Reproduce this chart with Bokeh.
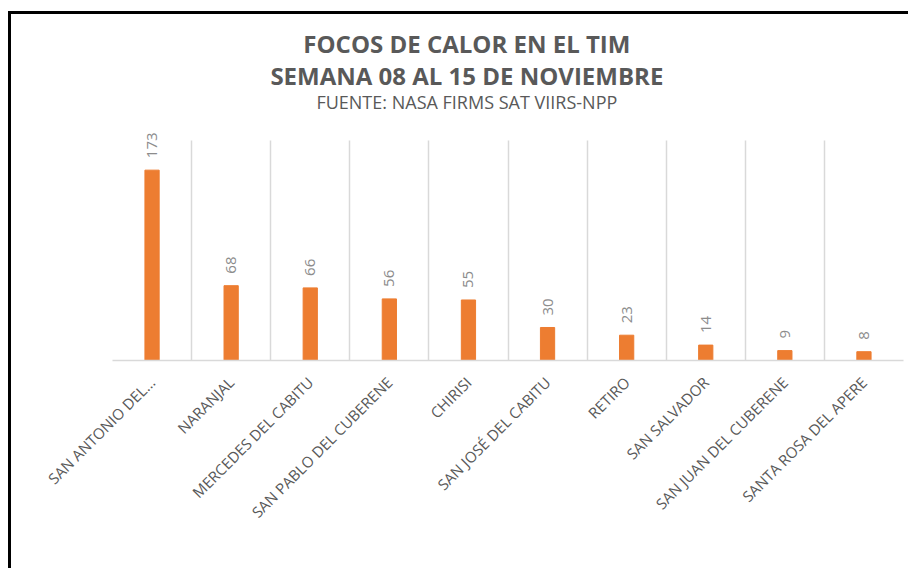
from math import pi
from bokeh.plotting import figure
from bokeh.models import ColumnDataSource, LabelSet, Label, FixedTicker, FactorRange, Range1d
from bokeh.core.properties import value
from bokeh.embed import file_html
from bokeh.resources import INLINE

categories = ["SAN ANTONIO DEL...", "NARANJAL", "MERCEDES DEL CABITU",
              "SAN PABLO DEL CUBERENE", "CHIRISI", "SAN JOSÉ DEL CABITU",
              "RETIRO", "SAN SALVADOR", "SAN JUAN DEL CUBERENE",
              "SANTA ROSA DEL APERE"]
values = [173, 68, 66, 56, 55, 30, 23, 14, 9, 8]
value_labels = [str(v) for v in values]
title_lines = ["FOCOS DE CALOR EN EL TIM", "SEMANA 08 AL 15 DE NOVIEMBRE"]
subtitle = "FUENTE: NASA FIRMS SAT VIIRS-NPP"
axis_max = 200

FONT = "Open Sans"
GRAY = "#595959"

src = ColumnDataSource(dict(cat=categories, val=values, lab=value_labels))

p = figure(width=900, height=557, x_range=FactorRange(*categories),
           y_range=Range1d(0, 309), output_backend="svg", toolbar_location=None,
           min_border_left=101, min_border_right=8, min_border_top=6,
           min_border_bottom=211)
p.margin = (11, 0, 0, 8)
p.styles = {"border-top": "3px solid black", "border-left": "3px solid black"}
p.outline_line_color = None
p.background_fill_color = "white"
p.border_fill_color = "white"

p.vbar(x="cat", top="val", width=0.18, source=src, color="#ED7D31")

# grid at category boundaries, up to the axis maximum
p.ygrid.visible = False
p.xgrid.ticker = FixedTicker(ticks=list(range(len(categories) + 1)))
p.xgrid.cross_bounds = (0, axis_max)
p.xgrid.grid_line_color = "#D9D9D9"
p.xgrid.grid_line_width = 1.5

p.yaxis.visible = False
ax = p.xaxis[0]
ax.axis_line_color = "#D9D9D9"
ax.axis_line_width = 1.5
ax.major_tick_line_color = None
ax.minor_tick_line_color = None
ax.major_label_orientation = pi / 4
ax.major_label_text_font = FONT
ax.major_label_text_font_size = "15px"
ax.major_label_text_color = GRAY
ax.major_label_standoff = 13

labels = LabelSet(x="cat", y="val", text="lab", source=src, angle=pi / 2,
                  text_align="left", text_baseline="middle", y_offset=12,
                  text_font=value(FONT), text_font_size=value("15px"),
                  text_color=value("#8c8c8c"))
p.add_layout(labels)

cx = 4.48
p.add_layout(Label(x=cx, y=288, text=title_lines[0], text_align="center",
                   text_baseline="middle", text_font=FONT, text_font_size="24px",
                   text_font_style="bold", text_color=GRAY))
p.add_layout(Label(x=cx, y=259, text=title_lines[1], text_align="center",
                   text_baseline="middle", text_font=FONT, text_font_size="24px",
                   text_font_style="bold", text_color=GRAY))
p.add_layout(Label(x=cx, y=234.5, text=subtitle, text_align="center",
                   text_baseline="middle", text_font=FONT, text_font_size="18px",
                   text_color=GRAY))

open("out.html", "w").write(file_html(p, INLINE))
